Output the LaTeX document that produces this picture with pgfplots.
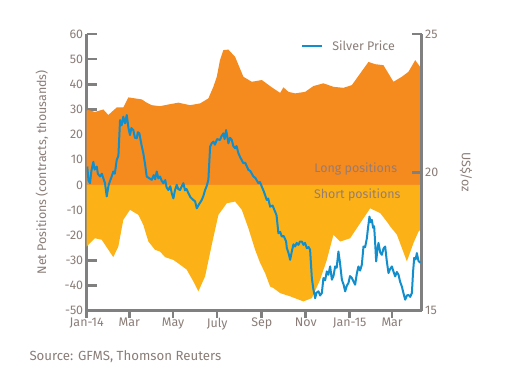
\documentclass[border=0pt]{standalone}
\usepackage{pgfplots}
\pgfplotsset{compat=1.18}
\usepackage{fontspec}
\setmainfont{Fira Sans}
\definecolor{longc}{RGB}{245,138,31}
\definecolor{shortc}{RGB}{252,178,23}
\definecolor{pricec}{RGB}{18,142,204}
\definecolor{axisc}{RGB}{128,128,128}
\definecolor{txtc}{RGB}{138,125,120}
\definecolor{inc}{RGB}{150,124,114}
\pgfplotsset{base/.style={scale only axis, width=335bp, height=276.7bp,
  xmin=0, xmax=465,
  font=\fontsize{12.5}{14}\selectfont,
  tick label style={text=txtc}, label style={text=txtc},
  axis line style={axisc, line width=2.6bp, -},
  major tick style={axisc, line width=2.6bp},
  /pgf/number format/assume math mode=true}}
\begin{document}
\begin{tikzpicture}
\useasboundingbox (-86.7bp,-60.3bp) rectangle (437.3bp,310.7bp);
% left axis with positions
\begin{axis}[base, ymin=-50, ymax=60, axis x line*=bottom, axis y line*=left,
  xtick=\empty, ytick={-50,-40,...,60}, tick align=inside, major tick length=10bp,
  every axis y label/.style={at={(axis description cs:-0.134,0.5)}, anchor=center, rotate=90, text=txtc, font=\fontsize{12.5}{14}\selectfont},
  ylabel={Net Positions (contracts, thousands)}]
\addplot[draw=none, fill=longc] coordinates {
(0,0) (0,29.5) (2.2,29.8) (11.5,29) (23.1,30) (30,27.8) (41.7,30.8) (50.8,30.8) (57.8,34.8) (76.4,34) (83.3,32.7) (90.3,31.7) (101.8,31.3) (115.7,32.1) (127.2,32.7) (143.5,31.7) (157.4,32.4) (168.9,34.4) (175.8,39) (180.6,43) (185,49.6) (189.7,53.6) (196.7,53.8) (206,50.9) (217.5,43) (229.2,41) (243.1,41.7) (256.9,38.8) (268.5,36.6) (273.1,38.8) (280,37) (289.3,36.4) (303.2,37) (314.7,39.3) (328.6,40.4) (342.5,39) (356.4,38.6) (368.1,39.7) (379.6,44.3) (391.1,48.9) (400.4,48) (411.9,47.6) (425.8,41) (437.5,43) (446.7,45) (456,49.6) (462.9,46.9) (462.9,0)
} -- cycle;
\addplot[draw=none, fill=shortc] coordinates {
(0,0) (0,-24.5) (2.2,-23.8) (11.5,-21.2) (20.8,-21.8) (36.9,-28.7) (43.9,-24.5) (50.8,-13.9) (60.1,-9.9) (71.7,-11.9) (78.6,-15.9) (85.6,-22.5) (94.9,-25.8) (101.8,-26.5) (108.8,-28.7) (120.3,-29.8) (129.6,-31.7) (138.9,-33.7) (148.1,-38.4) (155,-42.3) (164.3,-36.4) (173.6,-23.8) (182.8,-11.9) (194.4,-7.3) (206,-6.6) (215.3,-9.9) (224.4,-17.2) (233.8,-25.8) (240.7,-31) (247.6,-35) (254.6,-40.4) (259.2,-41) (268.5,-43) (282.4,-44.3) (300.8,-46.3) (312.5,-45) (324,-37.7) (333.3,-29.8) (342.5,-19.8) (351.8,-22.5) (365.7,-21.2) (379.6,-15.2) (393.5,-9.3) (407.4,-11.2) (416.7,-14.6) (421.3,-16.5) (430.6,-19.8) (444.4,-30.4) (453.6,-23.1) (460.6,-18.5) (462.9,-17.9) (462.9,0)
} -- cycle;
\node[anchor=east, text=inc, font=\fontsize{12.5}{14}\selectfont] at (rel axis cs:0.937,0.512) {Long positions};
\node[anchor=east, text=inc, font=\fontsize{12.5}{14}\selectfont] at (rel axis cs:0.947,0.418) {Short positions};
\end{axis}
% right axis with price
\begin{axis}[base, ymin=15, ymax=25, axis x line=none, axis y line*=right,
  ytick={15,20,25}, tick align=inside, major tick length=10bp,
  every axis y label/.style={at={(axis description cs:1.132,0.5)}, anchor=center, rotate=-90, text=txtc, font=\fontsize{12.5}{14}\selectfont},
  ylabel={US\$/oz},
  legend style={at={(0.640,0.957)}, anchor=west, draw=none, fill=none, inner sep=0pt,
    font=\fontsize{12.5}{14}\selectfont, text=txtc},
  legend image code/.code={\draw[#1, line width=2.2bp] (0bp,0bp) -- (20bp,0bp); \path (27bp,0bp);}]
\addplot[pricec, line width=2bp, line join=round] coordinates {
(0.8,20.21) (2.5,19.70) (4.6,19.61) (6.5,20.05) (9.2,20.38) (11,20.10) (13.9,20.21) (15.5,19.95) (18.5,19.85) (21,19.95) (25.4,19.61) (27.8,19.13) (30.5,19.55) (34.7,19.85) (36.9,20.03) (39,19.95) (41.7,20.45) (44,20.60) (46.3,21.89) (48.5,21.70) (50.8,22.01) (53.2,21.77) (55.6,22.07) (58,21.60) (60.1,21.35) (62,21.60) (64.7,21.53) (67,21.25) (69.4,21.23) (71,21.45) (73.1,21.41) (76,21.00) (78.6,20.69) (81,20.30) (83.3,19.85) (86,19.80) (90.3,19.73) (93,19.90) (95,19.75) (97.2,20.03) (99.5,19.78) (101.8,19.85) (104,19.70) (106.4,19.61) (109,19.72) (111,19.45) (113.3,19.36) (116,19.50) (118,19.25) (120.3,19.06) (122.5,19.35) (125,19.55) (127,19.40) (129.6,19.36) (132,19.50) (134.2,19.61) (136.5,19.35) (138.5,19.40) (141.1,19.25) (144,19.10) (148.1,19.00) (150.5,18.95) (152.8,18.70) (156,18.85) (159.7,19.00) (162,19.15) (164.3,19.36) (166.5,19.50) (168.9,19.73) (171.3,20.93) (173.5,21.05) (175.8,21.11) (178,21.00) (181,21.20) (185.1,21.17) (187,21.30) (189.7,21.41) (191.5,21.20) (193.5,21.53) (196.7,21.05) (199,21.25) (201.4,21.17) (203.5,20.95) (206,20.87) (208,20.95) (210.6,20.69) (213,20.55) (217.5,20.33) (220,20.35) (224.4,20.09) (227,20.05) (231.4,19.85) (234,19.80) (238.3,19.61) (240.5,19.65) (243.1,19.48) (246,19.30) (250,19.00) (252,19.05) (254.6,18.76) (258,18.80) (261.5,18.58) (263.5,18.45) (266.1,17.80) (268.5,17.85) (270.8,17.68) (273.5,17.70) (276.8,17.50) (277.8,17.26) (280,17.10) (282.4,16.84) (284.7,17.14) (287,17.40) (289.3,17.32) (291.5,17.45) (293.9,17.38) (296,17.50) (298.6,17.50) (300.8,17.38) (303,17.45) (305.6,17.26) (308,17.30) (310.1,17.20) (312.5,16.18) (314.5,15.80) (317.1,15.45) (319,15.65) (321.7,15.70) (324,15.55) (326.4,15.64) (328.6,16.18) (331,16.10) (333.3,16.42) (335.5,16.30) (337.9,16.60) (340.3,16.12) (342.5,16.25) (344.9,16.60) (347,16.55) (349.4,17.14) (351.5,16.75) (354.2,16.12) (356.5,15.95) (358.8,15.70) (361,15.90) (363.3,16.00) (365.5,16.25) (368.1,16.18) (370.5,16.05) (372.6,15.94) (375,16.35) (377.2,16.60) (379.5,16.45) (381.9,16.66) (384.2,17.32) (386.5,17.30) (388.9,17.62) (390.5,18.00) (392.5,18.40) (394,18.20) (395.8,18.28) (397.5,18.00) (399,18.05) (400.5,17.40) (401.8,16.78) (403.5,17.20) (405,17.45) (407.5,17.10) (409.7,17.02) (412,17.25) (414.3,17.32) (416.5,16.80) (418.9,16.36) (421,16.50) (423.6,16.60) (426,16.40) (428.2,16.24) (430.5,16.40) (432.8,16.30) (435,16.05) (437.5,15.87) (440,15.60) (442.1,15.40) (444.5,15.55) (446.7,15.57) (449,15.50) (451.4,15.64) (453,16.40) (454.6,16.91) (456.5,16.85) (458.3,17.08) (460.5,16.80) (462.9,16.73)
};
\addlegendentry{Silver Price}
\end{axis}
% x axis with outward ticks
\begin{axis}[base, ymin=-50, ymax=60, axis x line*=bottom, axis y line=none,
  xtick={0,59,120,181,243,304,365,424},
  xticklabels={Jan-14,Mar,May,July,Sep,Nov,Jan-15,Mar},
  xticklabel style={yshift=3bp},
  tick align=outside, major tick length=7bp]
\end{axis}
\node[anchor=west, text=txtc, font=\fontsize{13.3}{15}\selectfont] at (-60.7bp,-46.3bp) {Source: GFMS, Thomson Reuters};
\end{tikzpicture}
\end{document}
